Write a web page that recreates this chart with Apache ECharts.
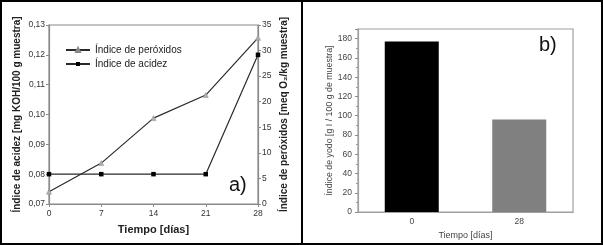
<!DOCTYPE html>
<html>
<head>
<meta charset="utf-8">
<script src="https://cdn.jsdelivr.net/npm/echarts@6/dist/echarts.min.js"></script>
<style>
html,body{margin:0;padding:0;background:#fff;}
#c{width:603px;height:245px;}
</style>
</head>
<body>
<div id="c"></div>
<script>
// Panel a) data
var days = [0, 7, 14, 21, 28];
var peroxidos = [2.4, 8.0, 16.8, 21.3, 32.5];   // meq O2/kg muestra (right axis)
var acidez = [0.08, 0.08, 0.08, 0.08, 0.12];     // mg KOH/100 g muestra (left axis)
// Panel b) data
var tiempoCat = ['0', '28'];
var yodo = [177, 96];                             // g I / 100 g de muestra
var yodoColors = ['#000000', '#808080'];

var F = 'Liberation Sans';
var chart = echarts.init(document.getElementById('c'), null, {renderer: 'canvas'});

var option = {
  animation: false,
  backgroundColor: '#fff',
  grid: [
    {left: 49, top: 25, width: 209, height: 179, show: true, borderColor: '#8a8a8a', borderWidth: 1.2, containLabel: false},
    {left: 358, top: 29, width: 215, height: 184, show: true, borderColor: '#a0a0a0', borderWidth: 1.2, containLabel: false}
  ],
  legend: {
    left: 60, top: 40, orient: 'vertical', itemWidth: 24, itemHeight: 5, itemGap: 4,
    textStyle: {fontFamily: F, fontSize: 10, color: '#222'},
    data: ['Índice de peróxidos', 'Índice de acidez']
  },
  xAxis: [
    {
      gridIndex: 0, type: 'value', min: 0, max: 28, interval: 7,
      axisLine: {show: true, lineStyle: {color: '#8a8a8a', width: 1.2}},
      axisTick: {show: true, inside: false, length: 3, lineStyle: {color: '#8a8a8a'}},
      axisLabel: {margin: 5, fontFamily: F, fontSize: 8.5, color: '#333'},
      splitLine: {show: false},
      name: 'Tiempo [días]', nameLocation: 'middle', nameGap: 20,
      nameTextStyle: {fontFamily: F, fontWeight: 'bold', fontSize: 11, color: '#222'}
    },
    {
      gridIndex: 1, type: 'category', data: tiempoCat,
      axisLine: {show: true, lineStyle: {color: '#a0a0a0', width: 1.2}},
      axisTick: {show: false},
      axisLabel: {margin: 5, fontFamily: F, fontSize: 8.5, color: '#444'},
      name: 'Tiempo [días]', nameLocation: 'middle', nameGap: 17,
      nameTextStyle: {fontFamily: F, fontSize: 9, color: '#444'}
    }
  ],
  yAxis: [
    {
      gridIndex: 0, type: 'value', min: 0.07, max: 0.13, interval: 0.01, position: 'left',
      axisLine: {show: true, lineStyle: {color: '#8a8a8a', width: 1.2}},
      axisTick: {show: true, length: 3, lineStyle: {color: '#8a8a8a'}},
      axisLabel: {margin: 4, fontFamily: F, fontSize: 8.5, color: '#333',
        formatter: function (v) { return v.toFixed(2).replace('.', ','); }},
      splitLine: {show: false},
      name: 'Índice de acidez [mg KOH/100 g muestra]', nameLocation: 'middle', nameGap: 27, nameRotate: 90,
      nameTextStyle: {fontFamily: F, fontWeight: 'bold', fontSize: 10, color: '#222'}
    },
    {
      gridIndex: 0, type: 'value', min: 0, max: 35, interval: 5, position: 'right',
      axisLine: {show: true, lineStyle: {color: '#8a8a8a', width: 1.2}},
      axisTick: {show: true, length: 3, lineStyle: {color: '#8a8a8a'}},
      axisLabel: {margin: 4, fontFamily: F, fontSize: 8.5, color: '#333'},
      splitLine: {show: false},
      name: 'Índice de peróxidos [meq O₂/kg muestra]', nameLocation: 'middle', nameGap: 21, nameRotate: 90,
      nameTextStyle: {fontFamily: F, fontWeight: 'bold', fontSize: 10, color: '#222'}
    },
    {
      gridIndex: 1, type: 'value', min: 0, max: 190, interval: 20,
      axisLine: {show: true, lineStyle: {color: '#a0a0a0', width: 1.2}},
      axisTick: {show: true, length: 3, lineStyle: {color: '#888'}},
      minorTick: {show: true, splitNumber: 2, length: 2, lineStyle: {color: '#999'}},
      axisLabel: {margin: 6, fontFamily: F, fontSize: 8.5, color: '#444', showMaxLabel: false},
      splitLine: {show: false},
      name: 'Índice de yodo [g I / 100 g de muestra]', nameLocation: 'middle', nameGap: 24, nameRotate: 90,
      nameTextStyle: {fontFamily: F, fontSize: 8.8, color: '#444'}
    }
  ],
  series: [
    {
      name: 'Índice de peróxidos', type: 'line', xAxisIndex: 0, yAxisIndex: 1,
      data: days.map(function (d, i) { return [d, peroxidos[i]]; }),
      symbol: 'triangle', symbolSize: 5, showAllSymbol: true,
      lineStyle: {color: '#2a2a2a', width: 1.2},
      itemStyle: {color: '#b0b0b0', borderColor: '#888', borderWidth: 0.5}
    },
    {
      name: 'Índice de acidez', type: 'line', xAxisIndex: 0, yAxisIndex: 0,
      data: days.map(function (d, i) { return [d, acidez[i]]; }),
      symbol: 'rect', symbolSize: 4.5, showAllSymbol: true,
      lineStyle: {color: '#2a2a2a', width: 1.2},
      itemStyle: {color: '#000'}
    },
    {
      name: 'yodo', type: 'bar', xAxisIndex: 1, yAxisIndex: 2, barWidth: 54,
      data: yodo.map(function (v, i) { return {value: v, itemStyle: {color: yodoColors[i]}}; })
    }
  ],
  graphic: [
    {type: 'rect', shape: {x: 1, y: 1, width: 601, height: 243}, style: {fill: 'none', stroke: '#000', lineWidth: 2}, z: 100},
    {type: 'line', shape: {x1: 302, y1: 0, x2: 302, y2: 245}, style: {stroke: '#000', lineWidth: 2}, z: 100},
    {type: 'text', left: 229, top: 175, style: {text: 'a)', font: '20px "Liberation Sans"', fill: '#111'}, z: 100},
    {type: 'text', left: 539, top: 35, style: {text: 'b)', font: '20px "Liberation Sans"', fill: '#111'}, z: 100}
  ]
};
chart.setOption(option);
</script>
</body>
</html>
